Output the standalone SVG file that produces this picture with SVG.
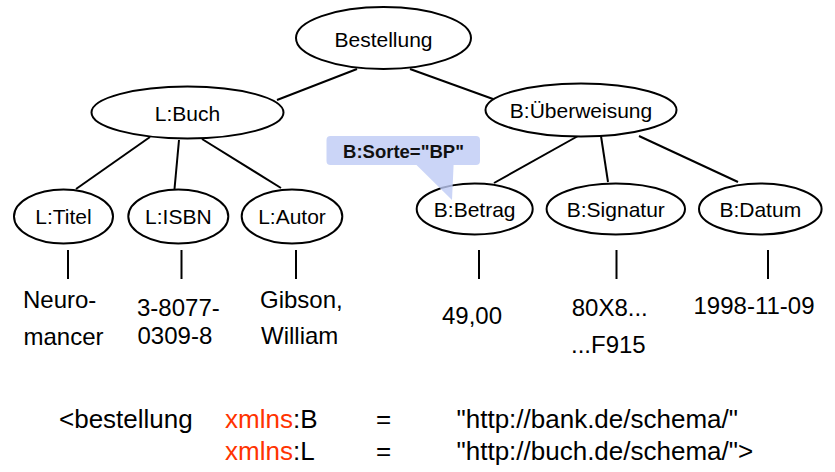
<svg xmlns="http://www.w3.org/2000/svg" width="835" height="472" viewBox="0 0 835 472">
<style>
.n ellipse{fill:#fff;stroke:#000;stroke-width:2}
.lbl{font-family:"Liberation Sans",Arial,sans-serif;font-size:21px;fill:#000;text-anchor:middle}
.val{font-family:"Liberation Sans",Arial,sans-serif;font-size:24px;fill:#000}
.code{font-family:"Liberation Sans",Arial,sans-serif;font-size:26px;fill:#000}
.red{fill:#ff3300}
#edges line{stroke:#000;stroke-width:2}
.bubble{fill:#becaf5;fill-opacity:0.8}
</style>
<rect width="835" height="472" fill="#fff"/>
<g id="edges">
<line x1="357" y1="69" x2="277" y2="100"/>
<line x1="410" y1="69" x2="493" y2="99"/>
<line x1="150" y1="137" x2="76" y2="189"/>
<line x1="179" y1="140" x2="174.5" y2="189"/>
<line x1="202" y1="139" x2="281" y2="188"/>
<line x1="578" y1="136" x2="494" y2="183"/>
<line x1="601" y1="136" x2="608" y2="182"/>
<line x1="639" y1="136" x2="738" y2="182"/>
<line x1="68" y1="250" x2="68" y2="279"/>
<line x1="181.5" y1="250" x2="181.5" y2="279"/>
<line x1="296" y1="250" x2="296" y2="279"/>
<line x1="479" y1="250" x2="479" y2="279"/>
<line x1="616.5" y1="250" x2="616.5" y2="279"/>
<line x1="768" y1="250" x2="768" y2="279"/>
</g>
<g id="bestellung" class="n"><ellipse cx="383.5" cy="38" rx="87.5" ry="31"/><text class="lbl" x="383.5" y="47">Bestellung</text></g>
<g id="buch" class="n"><ellipse cx="187.5" cy="112.5" rx="96" ry="26"/><text class="lbl" x="187.5" y="120.5">L:Buch</text></g>
<g id="ueberweisung" class="n"><ellipse cx="581" cy="110" rx="95.5" ry="26.5"/><text class="lbl" x="581" y="118">B:Überweisung</text></g>
<g id="titel" class="n"><ellipse cx="63.5" cy="216.5" rx="49.5" ry="27"/><text class="lbl" x="63.5" y="223.5">L:Titel</text></g>
<g id="isbn" class="n"><ellipse cx="178.3" cy="216.5" rx="50" ry="27"/><text class="lbl" x="178.3" y="223.5">L:ISBN</text></g>
<g id="autor" class="n"><ellipse cx="292" cy="216.5" rx="50.3" ry="27"/><text class="lbl" x="292" y="223.5">L:Autor</text></g>
<g id="betrag" class="n"><ellipse cx="474.7" cy="209" rx="58" ry="25.5"/><text class="lbl" x="474.7" y="217">B:Betrag</text></g>
<g id="signatur" class="n"><ellipse cx="615.8" cy="209" rx="69.2" ry="25.5"/><text class="lbl" x="615.8" y="217">B:Signatur</text></g>
<g id="datum" class="n"><ellipse cx="760.3" cy="209" rx="61.3" ry="25.5"/><text class="lbl" x="760.3" y="217">B:Datum</text></g>
<g id="values">
<text class="val" x="23" y="308">Neuro-</text>
<text class="val" x="23.5" y="345">mancer</text>
<text class="val" x="137" y="315.5">3-8077-</text>
<text class="val" x="137.5" y="344">0309-8</text>
<text class="val" x="260" y="308">Gibson,</text>
<text class="val" x="261" y="344">William</text>
<text class="val" x="442" y="323.5">49,00</text>
<text class="val" x="571.7" y="315.5">80X8...</text>
<text class="val" x="571" y="352.5">...F915</text>
<text class="val" x="693.5" y="313.5">1998-11-09</text>
</g>
<g id="callout">
<path class="bubble" d="M330.5,136 H476 Q480,136 480,140 V161 Q480,165 476,165 H453.6 L452,200 L416.5,165 H330.5 Q326.5,165 326.5,161 V140 Q326.5,136 330.5,136 Z"/>
<text x="403.5" y="157.5" font-family="'Liberation Sans',Arial,sans-serif" font-size="18.5" font-weight="bold" text-anchor="middle" fill="#111">B:Sorte="BP"</text>
</g>
<g id="namespaces">
<text class="code" x="59" y="428">&lt;bestellung</text>
<text class="code" x="225" y="428"><tspan class="red">xmlns</tspan>:B</text>
<text class="code" x="376" y="428">=</text>
<text class="code" x="456.5" y="428">"http://bank.de/schema/"</text>
<text class="code" x="225" y="460"><tspan class="red">xmlns</tspan>:L</text>
<text class="code" x="376" y="460">=</text>
<text class="code" x="456.5" y="460">"http://buch.de/schema/"&gt;</text>
</g>
</svg>
